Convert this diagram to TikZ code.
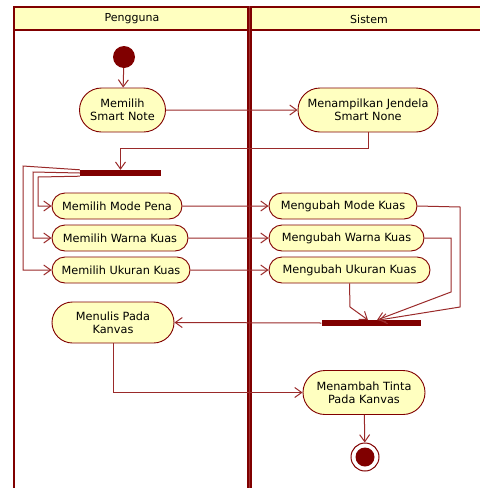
\documentclass[tikz,border=0pt]{standalone}
\usepackage{fontspec}
\setmainfont{DejaVu Sans}
\usetikzlibrary{arrows.meta,shapes.misc}
\definecolor{lane}{HTML}{800000}
\definecolor{lanemid}{HTML}{A03030}
\definecolor{act}{HTML}{FFFFC0}
\definecolor{conn}{HTML}{9A2A2A}
\begin{document}
\begin{tikzpicture}[x=1pt,y=-1pt,
  activity/.style={rounded rectangle, draw=lane, fill=act, line width=0.9pt,
    font=\fontsize{11.3}{13}\selectfont, align=center, inner sep=0pt},
  bar/.style={rectangle, fill=lane, draw=none, inner sep=0pt},
  flow/.style={draw=conn, line width=1pt, -{Straight Barb[length=7pt,width=10pt]}},
  lanelabel/.style={font=\fontsize{11}{13}\selectfont, inner sep=0pt}]
\useasboundingbox (0,0) rectangle (480,488);
% swimlanes
\fill[act] (14,7) rectangle (480,30);
\draw[lane, line width=2.4pt] (14,488) -- (14,7.2) -- (480,7.2);
\draw[lane, line width=2pt] (14,30.2) -- (480,30.2);
\draw[lane, line width=5pt] (249.5,6) -- (249.5,488);
\draw[lanemid, line width=1pt] (249.5,6) -- (249.5,488);
\node[lanelabel] (h1) at (132,19) {Pengguna};
\node[lanelabel] (h2) at (369,19) {Sistem};
% nodes
\node[circle, fill=lane, minimum size=22pt, inner sep=0pt] (start) at (124,57) {};
\node[activity, minimum width=86pt, minimum height=44pt] (smart) at (122.5,110) {Memilih\\Smart Note};
\node[activity, minimum width=140pt, minimum height=44pt] (tampil) at (368,110) {Menampilkan Jendela\\Smart None};
\node[bar, minimum width=81pt, minimum height=6pt] (fork) at (120.5,173) {};
\node[activity, minimum width=130pt, minimum height=26pt] (pmode) at (117,206) {Memilih Mode Pena};
\node[activity, minimum width=136pt, minimum height=26pt] (pwarna) at (120,238) {Memilih Warna Kuas};
\node[activity, minimum width=138pt, minimum height=26pt] (pukuran) at (121,270) {Memilih Ukuran Kuas};
\node[activity, minimum width=148pt, minimum height=26pt] (umode) at (343,206) {Mengubah Mode Kuas};
\node[activity, minimum width=155pt, minimum height=26pt] (uwarna) at (346.5,238) {Mengubah Warna Kuas};
\node[activity, minimum width=161pt, minimum height=26pt] (uukuran) at (349.5,270) {Mengubah Ukuran Kuas};
\node[bar, minimum width=99pt, minimum height=6pt] (join) at (371,323) {};
\node[activity, minimum width=122pt, minimum height=41pt] (tulis) at (113,322.5) {Menulis Pada\\Kanvas};
\node[activity, minimum width=122pt, minimum height=44pt] (tinta) at (364,392.5) {Menambah Tinta\\Pada Kanvas};
\node[circle, draw=lane, fill=white, line width=1pt, minimum size=28pt, inner sep=0pt] (end) at (365,457) {};
\node[circle, fill=lane, minimum size=19pt, inner sep=0pt] (endin) at (end) {};
% helper coordinates
\coordinate (f1) at (23,166);
\coordinate (f2) at (33,172);
\coordinate (f3) at (38,177);
\coordinate (m1) at (460,207);
\coordinate (m2) at (460,307);
\coordinate (w1) at (451,238);
\coordinate (w2) at (451,292);
\coordinate (k1) at (350,307);
\coordinate (j1) at (379,320);
\coordinate (j2) at (377,320);
\coordinate (j3) at (368,320);
% connectors
\draw[flow] (start) -- (smart);
\draw[flow] (smart) -- (tampil);
\draw[flow] (tampil.south) -- ++(0,16) -| (fork.north);
\draw[flow] (fork.north west) -- (f1) |- (pukuran);
\draw[flow] (fork.west) -- (f2) |- (pwarna);
\draw[flow] (fork.south west) -- (f3) |- (pmode);
\draw[flow] (pmode) -- (umode);
\draw[flow] (pwarna) -- (uwarna);
\draw[flow] (pukuran) -- (uukuran);
\draw[flow] (umode.east) -- (m1) -- (m2) -- (j1);
\draw[flow] (uwarna.east) -- (w1) -- (w2) -- (j2);
\draw[flow] (uukuran.south) -- (k1) -- (j3);
\draw[flow] (join.west) -- (tulis.east);
\draw[flow] (tulis.south) |- (tinta.west);
\draw[flow] (tinta) -- (end);
\end{tikzpicture}
\end{document}
